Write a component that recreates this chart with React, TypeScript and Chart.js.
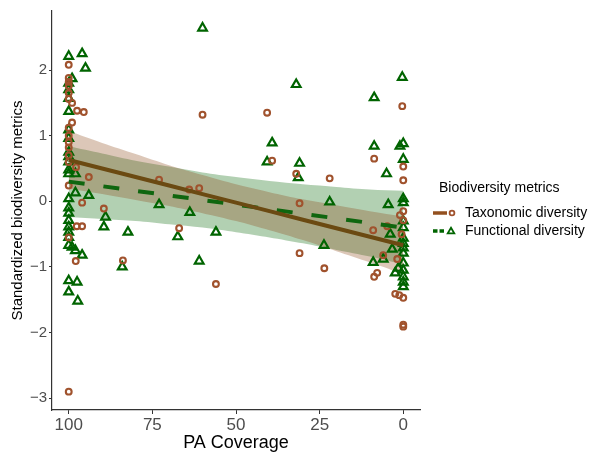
import { useEffect, useRef } from "react";
import { Chart, registerables } from "chart.js";

Chart.register(...registerables);

const FONT = '"Liberation Sans", Arial, Helvetica, sans-serif';

// Axis labels / ticks
const X_TITLE = "PA Coverage";
const Y_TITLE = "Standardized biodiversity metrics";
const LEGEND_TITLE = "Biodiversity metrics";
const SERIES_NAMES = ["Taxonomic diversity", "Functional diversity"];
const X_TICKS = [0, 25, 50, 75, 100];
const Y_TICKS = [-3, -2, -1, 0, 1, 2];

// Taxonomic diversity points
const taxX = [
  100, 100, 100, 100, 100, 100, 99, 97.5, 95.5, 99, 100, 100, 100, 100, 100, 100, 97.8, 94, 100, 96, 89.5, 97.6, 96, 100, 97.9, 100,
  83.8, 73, 67, 64, 61, 60, 56, 40.7, 39.2, 32, 31, 31, 22, 23.6,
  8.7, 0.3, 0, 0, 0, 1, 0, 4.8, 9, 0.5, 6, 1.8, 7.8, 8.7, 2.4, 1.2, 0, 0, 0,
];
const taxY = [
  2.08, 1.88, 1.82, 1.76, 1.65, 1.56, 1.5, 1.38, 1.36, 1.2, 1.12, 1.0, 0.9, 0.82, 0.7, 0.6, 0.52, 0.37, 0.24, -0.02, -0.11, -0.38, -0.38, -0.55, -0.91, -2.9,
  -0.9, 0.33, -0.41, 0.18, 0.2, 1.32, -1.26, 1.35, 0.62, 0.42, -0.03, -0.79, 0.35, -1.02,
  0.65, 1.45, 0.53, 0.32, -0.15, -0.21, -0.29, -0.38, -0.44, -0.5, -0.82, -0.88, -1.09, -1.15, -1.41, -1.43, -1.47, -1.88, -1.91,
];

// Functional diversity points
const funX = [
  100, 96, 95, 99, 100, 100, 100, 100, 100, 100, 100, 100, 100, 100, 100, 98, 98, 94, 100, 100, 100, 100, 100, 100, 100, 100, 99, 98, 96, 100, 97.5, 100, 97.3,
  89, 89.5, 82.3, 84, 73, 67.4, 63.8, 61, 60, 56, 40.7, 39.2, 32, 31, 31.4, 22, 23.7,
  8.7, 0.3, 8.7, 1, 0, 0, 5, 4.5, 0, 0, 3.9, 0, 3.3, 6, 9, 0, 0, 0, 0, 0, 1.5, 2.4, 0, 0, 0, 0, 0,
];
const funY = [
  2.21, 2.25, 2.03, 1.87, 1.8, 1.7, 1.57, 1.37, 1.09, 0.96, 0.75, 0.68, 0.6, 0.48, 0.42, 0.42, 0.13, 0.09, 0.04, -0.1, -0.18, -0.29, -0.39, -0.47, -0.55, -0.67, -0.7, -0.75, -0.82, -1.21, -1.23, -1.38, -1.52,
  -0.24, -0.39, -0.47, -1.0, -0.05, -0.54, -0.17, -0.91, 2.64, -0.47, 0.6, 0.89, 1.78, 0.58, 0.36, -0.01, -0.67,
  1.58, 1.89, 0.84, 0.84, 0.88, 0.64, 0.42, -0.05, 0.04, -0.02, -0.5, -0.56, -0.73, -0.88, -0.93, -0.64, -0.71, -0.79, -0.94, -1.05, -1.02, -1.09, -1.15, -1.23, -1.3, -0.3, -0.4,
];

// Fitted lines and confidence bands (read at these x positions)
const bandX = [100, 90, 80, 70, 60, 50, 40, 30, 20, 10, 0];
const taxFit = [0.63, 0.5, 0.37, 0.24, 0.11, -0.02, -0.15, -0.28, -0.41, -0.54, -0.67];
const taxUpper = [1.07, 0.89, 0.72, 0.55, 0.4, 0.26, 0.14, 0.03, -0.06, -0.15, -0.23];
const taxLower = [0.19, 0.11, 0.02, -0.07, -0.18, -0.3, -0.44, -0.59, -0.76, -0.93, -1.11];
const funFit = [0.3, 0.23, 0.16, 0.09, 0.02, -0.05, -0.12, -0.19, -0.26, -0.33, -0.4];
const funUpper = [0.84, 0.73, 0.62, 0.53, 0.44, 0.37, 0.31, 0.26, 0.22, 0.18, 0.16];
const funLower = [-0.24, -0.27, -0.3, -0.35, -0.4, -0.47, -0.55, -0.64, -0.74, -0.84, -0.96];

const TAX_POINT = "#A0522D";
const TAX_LINE = "#6B4A12";
const TAX_KEY = "#93501F";
const TAX_BAND = "rgba(139,69,19,0.3)";
const FUN_POINT = "#006400";
const FUN_LINE = "#0F660F";
const FUN_BAND = "rgba(0,100,0,0.3)";

const pts = (xs: number[], ys: number[]) => xs.map((x, i) => ({ x, y: ys[i] }));

const legendPlugin = {
  id: "customLegend",
  afterDraw(chart: any) {
    const ctx = chart.ctx as CanvasRenderingContext2D;
    ctx.save();
    ctx.fillStyle = "#000";
    ctx.textBaseline = "middle";
    ctx.textAlign = "left";
    ctx.font = `14px ${FONT}`;
    ctx.fillText(LEGEND_TITLE, 439, 188);

    // Taxonomic key
    ctx.strokeStyle = TAX_KEY;
    ctx.lineWidth = 3.5;
    ctx.beginPath();
    ctx.moveTo(433, 213);
    ctx.lineTo(447, 213);
    ctx.stroke();
    ctx.strokeStyle = TAX_POINT;
    ctx.lineWidth = 1.8;
    ctx.beginPath();
    ctx.arc(452, 213, 2.4, 0, Math.PI * 2);
    ctx.stroke();
    ctx.fillText(SERIES_NAMES[0], 465, 213);

    // Functional key
    ctx.strokeStyle = FUN_POINT;
    ctx.lineWidth = 3.5;
    ctx.beginPath();
    ctx.moveTo(433, 231);
    ctx.lineTo(437.5, 231);
    ctx.moveTo(439.5, 231);
    ctx.lineTo(444, 231);
    ctx.stroke();
    ctx.lineWidth = 1.8;
    const r = 3.8;
    const cx = 451;
    const cy = 231.5;
    ctx.beginPath();
    for (let k = 0; k < 3; k++) {
      const a = (k * 2 * Math.PI) / 3;
      const px = cx + Math.sin(a) * r;
      const py = cy - Math.cos(a) * r;
      if (k === 0) ctx.moveTo(px, py);
      else ctx.lineTo(px, py);
    }
    ctx.closePath();
    ctx.stroke();
    ctx.fillText(SERIES_NAMES[1], 465, 231);
    ctx.restore();
  },
};

export default function App() {
  const ref = useRef<HTMLCanvasElement>(null);

  useEffect(() => {
    if (!ref.current) return;
    const chart = new Chart(ref.current, {
      type: "line",
      data: {
        datasets: [
          {
            label: "tax upper",
            data: pts(bandX, taxUpper),
            borderWidth: 0,
            pointRadius: 0,
            fill: false,
            order: 3,
            tension: 0.3,
          },
          {
            label: "tax lower",
            data: pts(bandX, taxLower),
            borderWidth: 0,
            pointRadius: 0,
            fill: "-1",
            backgroundColor: TAX_BAND,
            order: 3,
            tension: 0.3,
          },
          {
            label: "fun upper",
            data: pts(bandX, funUpper),
            borderWidth: 0,
            pointRadius: 0,
            fill: false,
            order: 3,
            tension: 0.3,
          },
          {
            label: "fun lower",
            data: pts(bandX, funLower),
            borderWidth: 0,
            pointRadius: 0,
            fill: "-1",
            backgroundColor: FUN_BAND,
            order: 3,
            tension: 0.3,
          },
          {
            label: SERIES_NAMES[0],
            data: pts(taxX, taxY),
            showLine: false,
            pointStyle: "circle",
            pointRadius: 2.9,
            pointBorderWidth: 2.1,
            pointBorderColor: TAX_POINT,
            pointBackgroundColor: "rgba(0,0,0,0)",
            order: 2,
          },
          {
            label: SERIES_NAMES[1],
            data: pts(funX, funY),
            showLine: false,
            pointStyle: "triangle",
            pointRadius: 5,
            pointBorderWidth: 2.2,
            pointBorderColor: FUN_POINT,
            pointBackgroundColor: "rgba(0,0,0,0)",
            order: 2,
          },
          {
            label: "tax fit",
            data: pts(bandX, taxFit),
            borderColor: TAX_LINE,
            borderWidth: 4,
            pointRadius: 0,
            fill: false,
            order: 1,
          },
          {
            label: "fun fit",
            data: pts(bandX, funFit),
            borderColor: FUN_LINE,
            borderWidth: 4,
            borderDash: [16, 19],
            pointRadius: 0,
            fill: false,
            order: 1,
          },
        ],
      },
      options: {
        animation: false,
        responsive: false,
        events: [],
        layout: { padding: { top: 10, right: 183, left: 0, bottom: 0 } },
        plugins: {
          legend: { display: false },
          tooltip: { enabled: false },
        },
        scales: {
          x: {
            type: "linear",
            min: -5,
            max: 105,
            reverse: true,
            afterBuildTicks: (s: any) => {
              s.ticks = X_TICKS.map((v) => ({ value: v }));
            },
            afterFit: (s: any) => {
              s.height = 46;
            },
            ticks: {
              font: { family: FONT, size: 17 },
              color: "#4D4D4D",
              padding: 1,
              maxRotation: 0,
            },
            grid: {
              drawOnChartArea: false,
              drawTicks: true,
              tickLength: 4,
              color: "#333333",
            },
            border: { color: "#333333", width: 1.2 },
            title: {
              display: true,
              text: X_TITLE,
              color: "#000",
              font: { family: FONT, size: 18, lineHeight: 1.2 },
              padding: { top: 0, bottom: 2 },
            },
          },
          y: {
            type: "linear",
            min: -3.18,
            max: 2.9,
            afterBuildTicks: (s: any) => {
              s.ticks = Y_TICKS.map((v) => ({ value: v }));
            },
            afterFit: (s: any) => {
              s.width = 52;
            },
            ticks: {
              font: { family: FONT, size: 15 },
              color: "#4D4D4D",
              padding: 2,
              callback: (v: any) => String(v).replace("-", "\u2212"),
            },
            grid: {
              drawOnChartArea: false,
              drawTicks: true,
              tickLength: 3,
              color: "#333333",
            },
            border: { color: "#333333", width: 1.2 },
            title: {
              display: true,
              text: Y_TITLE,
              color: "#000",
              font: { family: FONT, size: 15, lineHeight: 1.2 },
              padding: { top: 9, bottom: 0 },
            },
          },
        },
      },
      plugins: [legendPlugin],
    });
    return () => chart.destroy();
  }, []);

  return (
    <div style={{ position: "fixed", left: 0, top: 0, width: 603, height: 456, background: "#fff" }}>
      <canvas ref={ref} width={603} height={456} style={{ display: "block" }} />
    </div>
  );
}
